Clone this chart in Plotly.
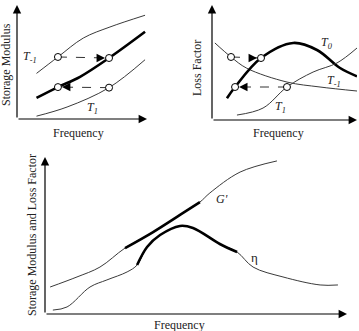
import plotly.graph_objects as go

# ---------------- data (arbitrary units 0..10) ----------------
# Panel 1: storage modulus vs frequency
p1_x_m1 = [1.5, 3.15, 5.1, 7.15, 9.85]
p1_y_m1 = [4.0, 5.44, 7.1, 8.07, 9.1]
p1_x_0 = [1.5, 3.15, 4.85, 7.08, 9.85]
p1_y_0 = [1.85, 2.8, 3.7, 5.35, 7.65]
p1_x_1 = [1.5, 3.85, 7.08, 9.85]
p1_y_1 = [0.25, 1.05, 2.75, 5.2]
p1_circ_x = [3.15, 7.08, 3.15, 7.08]
p1_circ_y = [5.44, 5.35, 2.8, 2.75]

# Panel 2: loss factor vs frequency
p2_x_m1 = [0.2, 1.31, 2.4, 5.17, 7.45, 10.0]
p2_y_m1 = [6.7, 5.48, 4.5, 3.3, 2.87, 2.52]
p2_x_0 = [1.03, 1.59, 3.38, 5.6, 7.24, 8.83, 10.0]
p2_y_0 = [1.9, 2.87, 5.39, 6.7, 6.09, 4.52, 3.8]
p2_x_1 = [1.72, 3.52, 5.17, 6.97, 8.62, 10.0]
p2_y_1 = [0.43, 1.04, 2.87, 4.17, 4.96, 6.26]
p2_circ_x = [1.31, 3.38, 1.59, 5.17]
p2_circ_y = [5.48, 5.39, 2.87, 2.87]

# Panel 3: master curves
p3_x_g = [0.17, 1.06, 1.82, 2.65, 3.58, 4.47, 5.13, 5.46, 6.46, 7.68]
p3_y_g = [1.72, 2.36, 2.99, 4.2, 5.22, 6.31, 7.13, 7.71, 9.04, 9.75]
p3_x_eta = [0.26, 0.73, 1.49, 2.05, 2.72, 3.05, 3.38, 3.81, 4.47, 4.9, 5.79, 6.36, 6.89, 7.88, 9.11, 9.7]
p3_y_eta = [0.25, 0.45, 1.72, 2.17, 2.68, 3.12, 4.27, 5.03, 5.61, 5.48, 4.46, 3.95, 2.99, 2.36, 1.85, 1.85]
p3_g_thick = (3, 7)     # index range of bold part
p3_eta_thick = (5, 12)

FONT = "Liberation Serif"
THIN = dict(color="#3a3a3a", width=1, shape="spline")
THICK = dict(color="black", width=2.6, shape="spline")

fig = go.Figure()

def add_line(x, y, ax, line):
    fig.add_trace(go.Scatter(x=x, y=y, mode="lines", line=line,
                             xaxis="x" + ax, yaxis="y" + ax, hoverinfo="skip"))

def add_circles(x, y, ax):
    fig.add_trace(go.Scatter(x=x, y=y, mode="markers",
                             marker=dict(size=7, color="white",
                                         line=dict(color="black", width=1)),
                             xaxis="x" + ax, yaxis="y" + ax, hoverinfo="skip"))

def dashed_arrow(x0, y0, x1, y1, ax, xr, yr):
    fig.add_trace(go.Scatter(x=[x0, x1], y=[y0, y1], mode="lines",
                             line=dict(color="#333", width=1, dash="dash"),
                             xaxis="x" + ax, yaxis="y" + ax, hoverinfo="skip"))
    sgn = -1 if x1 > x0 else 1
    fig.add_annotation(x=x1, y=y1, xref=xr, yref=yr, ax=12 * sgn, ay=0,
                       showarrow=True, arrowhead=2, arrowsize=1.3, arrowwidth=1.3,
                       standoff=4, arrowcolor="black", text="")

def axis_arrows(xr, yr):
    fig.add_annotation(x=10, y=0, ax=0, ay=0, xref=xr, yref=yr,
                       axref=xr, ayref=yr, showarrow=True, arrowhead=2,
                       arrowsize=1.4, arrowwidth=1.2, arrowcolor="black", text="")
    fig.add_annotation(x=0, y=10, ax=0, ay=0, xref=xr, yref=yr,
                       axref=xr, ayref=yr, showarrow=True, arrowhead=2,
                       arrowsize=1.4, arrowwidth=1.2, arrowcolor="black", text="")

def label(text, x, y, xr, yr, size=12):
    fig.add_annotation(x=x, y=y, xref=xr, yref=yr, text=text, showarrow=False,
                       xanchor="center", yanchor="middle",
                       font=dict(family=FONT, size=size, color="#222"))

# panel 1
add_line(p1_x_m1, p1_y_m1, "", THIN)
add_line(p1_x_0, p1_y_0, "", THICK)
add_line(p1_x_1, p1_y_1, "", THIN)
dashed_arrow(p1_circ_x[0], p1_circ_y[0], p1_circ_x[1], p1_circ_y[1], "", "x", "y")
dashed_arrow(p1_circ_x[3], p1_circ_y[3], p1_circ_x[2], p1_circ_y[2], "", "x", "y")
add_circles(p1_circ_x, p1_circ_y, "")
axis_arrows("x", "y")
label("<i>T<sub>-1</sub></i>", 1.0, 5.4, "x", "y")
label("<i>T<sub>0</sub></i>", 10.6, 7.6, "x", "y")
label("<i>T<sub>1</sub></i>", 5.8, 1.0, "x", "y")

# panel 2
add_line(p2_x_m1, p2_y_m1, "2", THIN)
add_line(p2_x_0, p2_y_0, "2", THICK)
add_line(p2_x_1, p2_y_1, "2", THIN)
dashed_arrow(p2_circ_x[0], p2_circ_y[0], p2_circ_x[1], p2_circ_y[1], "2", "x2", "y2")
dashed_arrow(p2_circ_x[3], p2_circ_y[3], p2_circ_x[2], p2_circ_y[2], "2", "x2", "y2")
add_circles(p2_circ_x, p2_circ_y, "2")
axis_arrows("x2", "y2")
label("<i>T<sub>0</sub></i>", 7.9, 6.7, "x2", "y2")
label("<i>T<sub>-1</sub></i>", 8.4, 3.4, "x2", "y2")
label("<i>T<sub>1</sub></i>", 4.7, 1.1, "x2", "y2")

# panel 3
add_line(p3_x_g, p3_y_g, "3", THIN)
add_line(p3_x_eta, p3_y_eta, "3", THIN)
a, b = p3_g_thick
add_line(p3_x_g[a:b], p3_y_g[a:b], "3", THICK)
a, b = p3_eta_thick
add_line(p3_x_eta[a:b], p3_y_eta[a:b], "3", THICK)
axis_arrows("x3", "y3")
label("<i>G'</i>", 5.85, 7.3, "x3", "y3")
label("η", 6.95, 3.6, "x3", "y3", size=13)

# axis titles (paper coords)
W, H = 359, 331
def ptext(text, px, py, angle=0):
    fig.add_annotation(x=px / W, y=1 - py / H, xref="paper", yref="paper",
                       text=text, showarrow=False, textangle=angle,
                       xanchor="center", yanchor="middle",
                       font=dict(family=FONT, size=12, color="#222"))

ptext("Frequency", 78, 133)
ptext("Frequency", 278, 133)
ptext("Frequency", 179, 325)
ptext("Storage Modulus", 6, 65, -90)
ptext("Loss Factor", 197, 68, -90)
ptext("Storage Modulus and Loss Factor", 32, 235, -90)

hidden = dict(showgrid=False, zeroline=False, showline=False, showticklabels=False,
              ticks="", fixedrange=True)
fig.update_layout(
    width=W, height=H, margin=dict(l=0, r=0, t=0, b=0),
    paper_bgcolor="white", plot_bgcolor="white", showlegend=False,
    xaxis=dict(domain=[17 / W, 147 / W], range=[0, 10], **hidden),
    yaxis=dict(domain=[1 - 119 / H, 1 - 5 / H], range=[0, 10], **hidden),
    xaxis2=dict(domain=[212 / W, 357 / W], range=[0, 10], anchor="y2", **hidden),
    yaxis2=dict(domain=[1 - 120 / H, 1 - 5 / H], range=[0, 10], anchor="x2", **hidden),
    xaxis3=dict(domain=[45 / W, 347 / W], range=[0, 10], anchor="y3", **hidden),
    yaxis3=dict(domain=[1 - 314 / H, 1 - 157 / H], range=[0, 10], anchor="x3", **hidden),
)

fig.write_html("out.html")
